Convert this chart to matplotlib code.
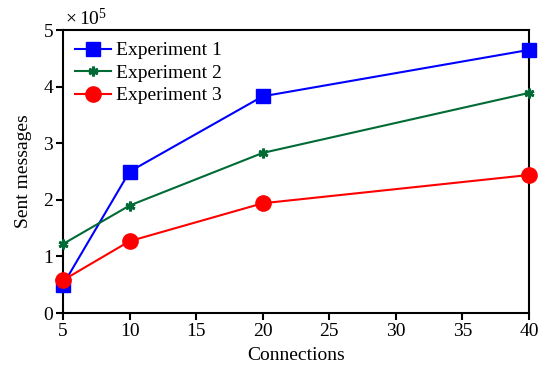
import matplotlib.pyplot as plt

connections = [5, 10, 20, 40]
exp1 = [0.50, 2.50, 3.83, 4.65]
exp2 = [1.22, 1.90, 2.83, 3.89]
exp3 = [0.58, 1.27, 1.94, 2.44]

plt.rcParams["font.family"] = ["Liberation Serif", "DejaVu Serif"]
plt.rcParams["mathtext.fontset"] = "custom"
plt.rcParams["mathtext.rm"] = "Liberation Serif"

fig = plt.figure(figsize=(5.46, 3.67), dpi=100)
ax = fig.add_axes([0.1154, 0.147, 0.8536, 0.771])

ax.plot(connections, exp1, color="#0000ff", lw=1.5, marker="s", ms=10,
        label="Experiment 1", clip_on=False, zorder=3)
ax.plot(connections, exp2, color="#006b35", lw=1.5, marker=(6, 2, 0), ms=7,
        mew=2, label="Experiment 2", clip_on=False, zorder=3)
ax.plot(connections, exp3, color="#ff0000", lw=1.5, marker="o", ms=11,
        label="Experiment 3", clip_on=False, zorder=4)

ax.set_xlim(5, 40)
ax.set_ylim(0, 5)
ax.set_xticks([5, 10, 15, 20, 25, 30, 35, 40])
ax.set_yticks([0, 1, 2, 3, 4, 5])
ax.tick_params(direction="out", length=5, width=1.5, labelsize=14, pad=2,
               top=False, right=False)
for s in ax.spines.values():
    s.set_linewidth(1.5)

ax.set_xlabel("Connections", fontsize=14, labelpad=5)
ax.set_ylabel("Sent messages", fontsize=14, labelpad=8)
ax.text(0.005, 1.005, r"$\mathrm{\times\,10^5}$", transform=ax.transAxes,
        fontsize=14, ha="left", va="bottom")

ax.legend(loc="upper left", frameon=False, fontsize=14, handlelength=1.85,
          borderaxespad=0.3, labelspacing=0.25, handletextpad=0.3,
          borderpad=0.3)

fig.savefig("out.png", dpi=100)
